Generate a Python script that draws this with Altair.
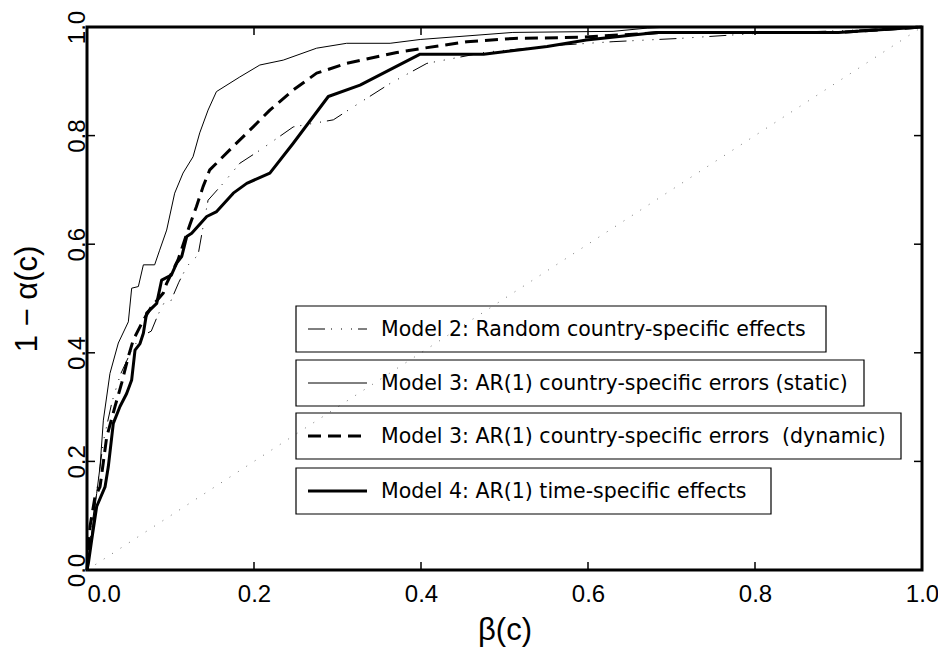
import altair as alt
import pandas as pd

# ---------------- data ----------------
m2_x = [0, 0.004, 0.012, 0.02, 0.03, 0.04, 0.055, 0.065, 0.077, 0.085, 0.093, 0.1, 0.11, 0.12,
        0.133, 0.139, 0.145, 0.163, 0.183, 0.207, 0.247, 0.295, 0.319, 0.363, 0.407, 0.479,
        0.571, 0.63, 0.71, 0.8, 0.9, 1.0]
m2_y = [0, 0.06, 0.15, 0.24, 0.31, 0.36, 0.41, 0.43, 0.44, 0.47, 0.494, 0.494, 0.53, 0.56,
        0.58, 0.632, 0.681, 0.712, 0.749, 0.773, 0.816, 0.829, 0.853, 0.896, 0.933, 0.954,
        0.967, 0.973, 0.979, 0.988, 0.993, 1.0]

m3s_x = [0, 0.0016, 0.0056, 0.0116, 0.0156, 0.0196, 0.0275, 0.0375, 0.0495, 0.0535, 0.0615,
         0.0675, 0.081, 0.087, 0.0954, 0.105, 0.115, 0.127, 0.135, 0.145, 0.155, 0.183, 0.207,
         0.235, 0.275, 0.311, 0.363, 0.399, 0.51, 0.63, 0.671, 0.7, 1.0]
m3s_y = [0, 0.025, 0.068, 0.141, 0.19, 0.276, 0.362, 0.418, 0.457, 0.519, 0.522,
         0.562, 0.562, 0.589, 0.626, 0.694, 0.731, 0.761, 0.805, 0.847, 0.881, 0.908, 0.93,
         0.939, 0.961, 0.97, 0.97, 0.977, 0.99, 0.992, 0.998, 1.0, 1.0]

m3d_x = [0, 0.0036, 0.0096, 0.0156, 0.0236, 0.0335, 0.0415, 0.0495, 0.0555, 0.0674, 0.0774,
         0.0914, 0.0954, 0.109, 0.117, 0.123, 0.131, 0.139, 0.147, 0.155, 0.175, 0.199, 0.219,
         0.247, 0.275, 0.311, 0.371, 0.403, 0.455, 0.511, 0.59, 0.69, 0.9, 1.0]
m3d_y = [0, 0.08, 0.135, 0.153, 0.245, 0.301, 0.344, 0.393, 0.424, 0.46, 0.485,
         0.51, 0.528, 0.571, 0.608, 0.635, 0.669, 0.706, 0.737, 0.749, 0.78, 0.816, 0.847,
         0.884, 0.915, 0.933, 0.953, 0.961, 0.973, 0.979, 0.981, 0.99, 0.99, 1.0]

m4_x = [0, 0.0016, 0.0056, 0.0116, 0.0216, 0.0255, 0.0315, 0.0395, 0.0475, 0.0535, 0.0575,
        0.0635, 0.0675, 0.0714, 0.0835, 0.0894, 0.101, 0.1074, 0.1134, 0.1194, 0.1254, 0.1434,
        0.1553, 0.1752, 0.1913, 0.219, 0.247, 0.289, 0.327, 0.399, 0.475, 0.551, 0.598, 0.682,
        0.9, 1.0]
m4_y = [0, 0.012, 0.055, 0.117, 0.153, 0.19, 0.27, 0.301, 0.325, 0.35, 0.405,
        0.417, 0.436, 0.473, 0.491, 0.534, 0.543, 0.565, 0.577, 0.614, 0.62, 0.651,
        0.66, 0.694, 0.712, 0.731, 0.786, 0.872, 0.893, 0.95, 0.95, 0.964, 0.976, 0.99,
        0.99, 1.0]

diag_x = [0.0, 1.0]
diag_y = [0.0, 1.0]

axis_values = [0.0, 0.2, 0.4, 0.6, 0.8, 1.0]
inner_ticks = [0.2, 0.4, 0.6, 0.8]

legend_labels = [
    "Model 2: Random country-specific effects",
    "Model 3: AR(1) country-specific errors (static)",
    "Model 3: AR(1) country-specific errors \u00a0(dynamic)",
    "Model 4: AR(1) time-specific effects",
]

# ---------------- styling / layout ----------------
W, H = 835, 543
styles = [
    dict(strokeWidth=1, strokeDash=[17, 6, 1, 9, 1, 9, 1, 6]),
    dict(strokeWidth=1),
    dict(strokeWidth=3, strokeDash=[13, 7]),
    dict(strokeWidth=3),
]
box_top = [279, 333, 386, 441]
box_right = [739, 777, 814, 684]
box_left = 209
box_h = 46
LABEL_FONT = "Liberation Sans, Arial, Helvetica, sans-serif"

xs = [m2_x, m3s_x, m3d_x, m4_x]
ys = [m2_y, m3s_y, m3d_y, m4_y]

xscale = alt.Scale(domain=[0, 1], nice=False, zero=False)
yscale = alt.Scale(domain=[0, 1], nice=False, zero=False)

x_axis = alt.Axis(
    values=axis_values, format=".1f", grid=False, ticks=False, tickSize=0, domain=False,
    labelFont=LABEL_FONT, labelFontSize=24, labelColor="black",
    labelPadding=12, labelFlush=False, labelOverlap=False,
    labelAlign=alt.ConditionalAxisLabelAlign(
        condition={"test": "datum.value == 0", "value": "left"}, value="center"),
    title="β(c)", titleFont=LABEL_FONT, titleFontSize=31, titleFontWeight="normal",
    titleColor="black", titleX=W / 2, titleY=60, titleBaseline="middle", titleAlign="center",
)
y_axis = alt.Axis(
    values=axis_values, format=".1f", grid=False, ticks=False, tickSize=0, domain=False,
    labelFont=LABEL_FONT, labelFontSize=24, labelColor="black",
    labelAngle=270, labelPadding=3, labelBaseline="alphabetic", labelFlush=False,
    labelOverlap=False, labelAlign="center",
    title="1 \u2212 \u03b1(c)", titleFont=LABEL_FONT, titleFontSize=31,
    titleFontWeight="normal", titleColor="black", titleAngle=270,
    titleX=-60, titleY=H / 2, titleBaseline="middle", titleAlign="center",
)

layers = []

diag = pd.DataFrame({"x": diag_x, "y": diag_y})
layers.append(
    alt.Chart(diag).mark_line(color="#777777", strokeWidth=1, strokeDash=[1, 9]).encode(
        x=alt.X("x:Q", scale=xscale, axis=x_axis),
        y=alt.Y("y:Q", scale=yscale, axis=y_axis),
    )
)

for sx, sy, st in zip(xs, ys, styles):
    df = pd.DataFrame({"x": sx, "y": sy, "i": list(range(len(sx)))})
    layers.append(
        alt.Chart(df).mark_line(color="black", strokeJoin="round", **st).encode(
            x=alt.X("x:Q", scale=xscale, axis=x_axis),
            y=alt.Y("y:Q", scale=yscale, axis=y_axis),
            order="i:Q",
        )
    )

# inward ticks on the four sides
tx = pd.DataFrame({"x": inner_ticks, "y": inner_ticks})
tick_style = dict(color="black", strokeWidth=1.5)
layers.append(alt.Chart(tx).mark_rule(**tick_style).encode(
    x=alt.X("x:Q", scale=xscale, axis=x_axis), y=alt.value(H), y2=alt.value(H - 8)))
layers.append(alt.Chart(tx).mark_rule(**tick_style).encode(
    x=alt.X("x:Q", scale=xscale, axis=x_axis), y=alt.value(0), y2=alt.value(8)))
layers.append(alt.Chart(tx).mark_rule(**tick_style).encode(
    y=alt.Y("y:Q", scale=yscale, axis=y_axis), x=alt.value(0), x2=alt.value(8)))
layers.append(alt.Chart(tx).mark_rule(**tick_style).encode(
    y=alt.Y("y:Q", scale=yscale, axis=y_axis), x=alt.value(W), x2=alt.value(W - 8)))

# legend boxes
one = pd.DataFrame({"k": [0]})
for lab, st, top, right in zip(legend_labels, styles, box_top, box_right):
    cy = top + box_h / 2
    layers.append(alt.Chart(one).mark_rect(fill=None, fillOpacity=0, stroke="black",
                                           strokeWidth=1.2).encode(
        x=alt.value(box_left), x2=alt.value(right), y=alt.value(top), y2=alt.value(top + box_h)))
    layers.append(alt.Chart(one).mark_rule(color="black", **st).encode(
        x=alt.value(box_left + 12), x2=alt.value(box_left + 71), y=alt.value(cy)))
    layers.append(alt.Chart(one).mark_text(
        align="left", baseline="middle", font="DejaVu Sans", fontSize=20.5,
        color="black").encode(
        x=alt.value(box_left + 85), y=alt.value(cy + 1), text=alt.value(lab)))

chart = alt.layer(*layers).properties(
    width=W, height=H,
    autosize=alt.AutoSizeParams(type="none"),
    padding={"left": 79, "top": 19, "right": 16, "bottom": 84},
    background="white",
).configure_view(stroke="black", strokeWidth=3)

chart.save("out.html", embed_options={"renderer": "svg", "actions": False})
